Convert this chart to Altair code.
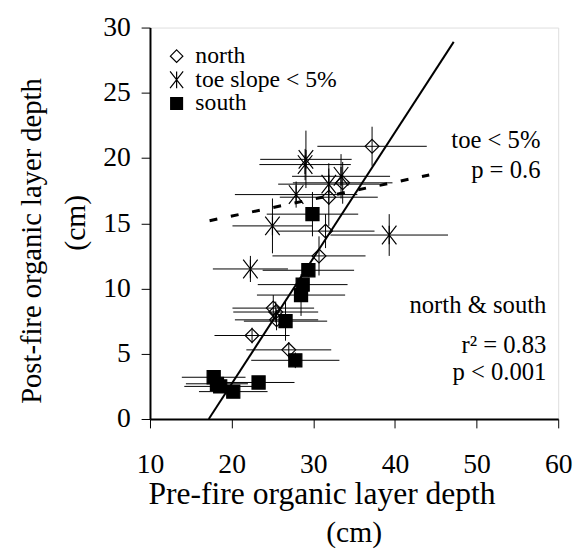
import altair as alt
import pandas as pd

groups = ["north", "toe slope < 5%", "south"]

north_x = [37.2, 33.6, 31.9, 31.5, 30.7, 25.1, 25.4, 25.5, 22.5, 27.0]
north_y = [20.9, 18.1, 17.0, 14.4, 12.5, 8.5, 8.2, 7.6, 6.4, 5.3]
north_xerr = [6.7, 6.1, 6.0, 6.0, 5.7, 5.0, 5.2, 5.1, 4.6, 5.2]
north_yerr = [1.5, 1.6, 2.2, 1.3, 1.5, 1.0, 0.8, 0.8, 0.6, 0.6]

toe_x = [29.1, 29.0, 33.4, 31.9, 27.9, 25.0, 39.3, 22.3]
toe_y = [19.9, 19.5, 18.6, 18.0, 17.2, 14.8, 14.1, 11.5]
toe_xerr = [5.6, 5.6, 6.0, 6.2, 7.5, 4.9, 7.2, 4.6]
toe_yerr = [2.2, 1.2, 1.7, 1.6, 1.0, 2.1, 1.6, 1.0]

south_x = [29.9, 29.4, 28.7, 28.5, 26.6, 27.8, 23.3, 17.8, 18.2, 18.6, 20.2]
south_y = [15.7, 11.4, 10.3, 9.5, 7.5, 4.5, 2.8, 3.2, 2.7, 2.5, 2.1]
south_xerr = [5.6, 5.6, 5.5, 5.4, 5.1, 5.4, 4.4, 3.9, 3.8, 4.4, 4.2]
south_yerr = [1.7, 0.5, 0.5, 1.6, 1.5, 0.6, 0.4, 0.3, 0.3, 0.3, 0.3]

# regression lines (end points)
ns_fit_x = [17.2, 47.2]
ns_fit_y = [0.0, 28.9]
toe_fit_x = [17.3, 44.2]
toe_fit_y = [15.2, 18.7]

rows = []
for g, xs, ys, xe, ye in [
    (groups[0], north_x, north_y, north_xerr, north_yerr),
    (groups[1], toe_x, toe_y, toe_xerr, toe_yerr),
    (groups[2], south_x, south_y, south_xerr, south_yerr),
]:
    for x, y, a, b in zip(xs, ys, xe, ye):
        rows.append(dict(group=g, x=x, y=y, x_lo=x - a, x_hi=x + a,
                         y_lo=y - b, y_hi=y + b))
df = pd.DataFrame(rows)

fit_df = pd.concat([
    pd.DataFrame({"fit": "ns", "x": ns_fit_x, "y": ns_fit_y}),
    pd.DataFrame({"fit": "toe", "x": toe_fit_x, "y": toe_fit_y}),
])

FONT = "Liberation Serif"
XT = "Pre-fire organic layer depth"
YT = "Post-fire organic layer depth"

x_scale = alt.Scale(domain=[10, 60], nice=False, zero=False)
y_scale = alt.Scale(domain=[0, 30], nice=False, zero=False)

x_axis = alt.Axis(values=[10, 20, 30, 40, 50, 60], grid=False,
                  domainColor="black", domainWidth=2,
                  tickColor="black", tickWidth=1, tickSize=9,
                  labelFont=FONT, labelFontSize=28, labelColor="black",
                  labelPadding=23, labelFlush=False, labelOverlap=False,
                  titleFont=FONT, titleFontSize=32, titleFontWeight="normal",
                  titleColor="black", titleX=174, titleY=86,
                  titleBaseline="alphabetic", titleAlign="center")
y_axis = alt.Axis(values=[0, 5, 10, 15, 20, 25, 30], grid=False,
                  domainColor="black", domainWidth=2,
                  tickColor="black", tickWidth=1, tickSize=9,
                  labelFont=FONT, labelFontSize=28, labelColor="black",
                  labelPadding=11, labelFlush=False, labelOverlap=False,
                  titleFont=FONT, titleFontSize=29, titleFontWeight="normal",
                  titleColor="black", titleX=-111, titleY=216, titleAngle=270,
                  titleBaseline="alphabetic", titleAlign="center")

def X(f):
    return alt.X(f, scale=x_scale, axis=x_axis, title=XT)

def Y(f):
    return alt.Y(f, scale=y_scale, axis=y_axis, title=YT)

base = alt.Chart(df)

xerr = base.mark_rule(color="black", strokeWidth=1).encode(
    x=X("x_lo:Q"), x2="x_hi:Q", y=Y("y:Q"))
yerr = base.mark_rule(color="black", strokeWidth=1).encode(
    x=X("x:Q"), y=Y("y_lo:Q"), y2="y_hi:Q")

DIAMOND = "M0,-1L1,0L0,1L-1,0Z"
ASTER = "M-1.05,-1.35L1.05,1.35M-1.05,1.35L1.05,-1.35M0,-1.35L0,1.35"
SQUARE = "M-0.95,-0.95L0.95,-0.95L0.95,0.95L-0.95,0.95Z"

legend = alt.Legend(title=None, orient="none", legendX=15, legendY=17,
                    padding=0, rowPadding=0, labelFont=FONT, labelFontSize=24,
                    labelColor="black", labelOffset=7, symbolSize=160,
                    symbolStrokeWidth=1.2)

pts = base.mark_point(filled=False, strokeWidth=1.2, opacity=1, size=196).encode(
    x=X("x:Q"), y=Y("y:Q"),
    shape=alt.Shape("group:N", scale=alt.Scale(domain=groups,
                    range=[DIAMOND, ASTER, SQUARE]), legend=legend),
    fill=alt.Fill("group:N", scale=alt.Scale(domain=groups,
                  range=["transparent", "transparent", "black"]), legend=legend),
    stroke=alt.Stroke("group:N", scale=alt.Scale(domain=groups,
                      range=["black", "black", "black"]), legend=legend),
)

fit_ns = alt.Chart(fit_df).transform_filter(alt.datum.fit == "ns").mark_line(
    color="black", strokeWidth=2).encode(x=X("x:Q"), y=Y("y:Q"))
fit_toe = alt.Chart(fit_df).transform_filter(alt.datum.fit == "toe").mark_line(
    color="black", strokeWidth=3, strokeDash=[8, 14]).encode(x=X("x:Q"), y=Y("y:Q"))

one = pd.DataFrame({"a": [0]})

def label(txt, px, py, align="right", angle=0, size=25, baseline="alphabetic"):
    return alt.Chart(one).mark_text(font=FONT, fontSize=size, color="black",
                                    align=align, baseline=baseline,
                                    angle=angle).encode(
        x=alt.value(px), y=alt.value(py), text=alt.value(txt))

texts = [
    label("toe < 5%", 396, 122),
    label("p = 0.6", 396, 153),
    label("north & south", 402, 289),
    label("r² = 0.83", 402, 330),
    label("p < 0.001", 402, 357),
    label("(cm)", 207, 522, align="center", size=30),
    label("(cm)", -66, 198, align="center", angle=270, size=30),
]

chart = alt.layer(xerr, yerr, fit_ns, fit_toe, pts, *texts).properties(
    width=414, height=397,
    autosize=alt.AutoSizeParams(type="none"),
    padding={"left": 144, "top": 16, "right": 16, "bottom": 129},
).configure_view(stroke="#808080", strokeWidth=1).configure(background="white")

chart.save("out.html", embed_options={"renderer": "svg", "actions": False})
